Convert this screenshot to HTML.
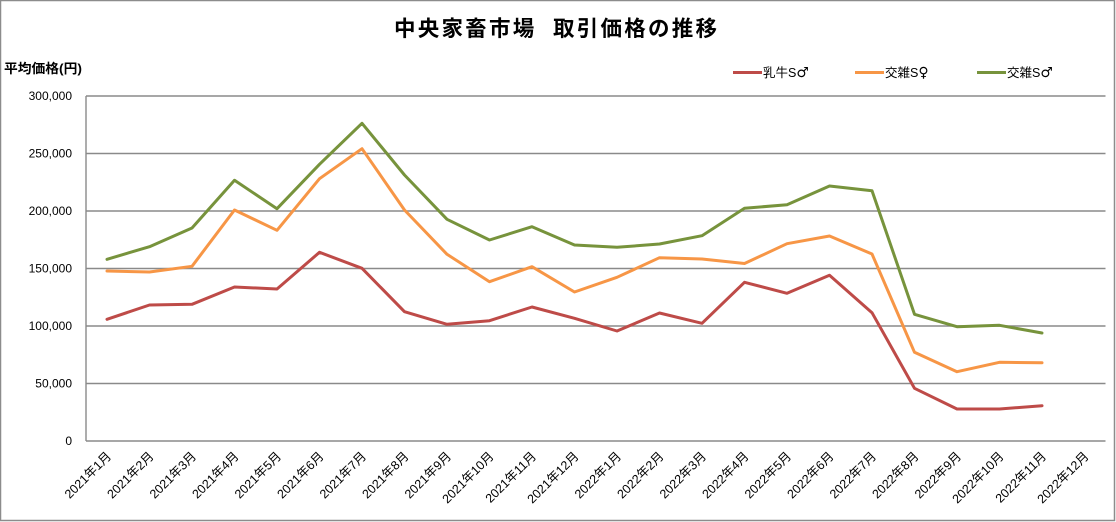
<!DOCTYPE html>
<html><head><meta charset="utf-8"><style>
html,body{margin:0;padding:0;background:#fff;}
svg{display:block;}
text{font-family:"Liberation Sans","Noto Sans CJK JP",sans-serif;fill:#000;}
.sym{font-family:"DejaVu Sans",sans-serif;}
</style></head><body>
<svg width="1116" height="522" viewBox="0 0 1116 522" xmlns="http://www.w3.org/2000/svg">
<rect x="0.5" y="0.5" width="1114" height="520" fill="#fff" stroke="#8c8c8c" stroke-width="1.5"/>
<text x="555.5" y="36" text-anchor="middle" font-size="21.5" font-weight="bold" textLength="323" lengthAdjust="spacing">中央家畜市場&#160;&#160;取引価格の推移</text>
<text x="4" y="73" font-size="13" font-weight="bold" textLength="78" lengthAdjust="spacingAndGlyphs">平均価格(円)</text>
<g stroke="#8a8a8a" stroke-width="1.4" fill="none">
<line x1="86" y1="96" x2="1105.5" y2="96"/>
<line x1="86" y1="153.5" x2="1105.5" y2="153.5"/>
<line x1="86" y1="211" x2="1105.5" y2="211"/>
<line x1="86" y1="268.5" x2="1105.5" y2="268.5"/>
<line x1="86" y1="326" x2="1105.5" y2="326"/>
<line x1="86" y1="383.5" x2="1105.5" y2="383.5"/>
<line x1="86" y1="441" x2="1105.5" y2="441"/>
<line x1="86" y1="96" x2="86" y2="441"/>
</g>
<g font-size="12" text-anchor="end">
<text x="72" y="100">300,000</text>
<text x="72" y="157.5">250,000</text>
<text x="72" y="215">200,000</text>
<text x="72" y="272.5">150,000</text>
<text x="72" y="330">100,000</text>
<text x="72" y="387.5">50,000</text>
<text x="72" y="445">0</text>
</g>
<g font-size="12.5" text-anchor="end">
<text transform="translate(112,457) rotate(-45)">2021年1月</text>
<text transform="translate(154.5,457) rotate(-45)">2021年2月</text>
<text transform="translate(197,457) rotate(-45)">2021年3月</text>
<text transform="translate(239.5,457) rotate(-45)">2021年4月</text>
<text transform="translate(282,457) rotate(-45)">2021年5月</text>
<text transform="translate(324.5,457) rotate(-45)">2021年6月</text>
<text transform="translate(367,457) rotate(-45)">2021年7月</text>
<text transform="translate(409.5,457) rotate(-45)">2021年8月</text>
<text transform="translate(452,457) rotate(-45)">2021年9月</text>
<text transform="translate(494.5,457) rotate(-45)">2021年10月</text>
<text transform="translate(537,457) rotate(-45)">2021年11月</text>
<text transform="translate(579.5,457) rotate(-45)">2021年12月</text>
<text transform="translate(622,457) rotate(-45)">2022年1月</text>
<text transform="translate(664.5,457) rotate(-45)">2022年2月</text>
<text transform="translate(707,457) rotate(-45)">2022年3月</text>
<text transform="translate(749.5,457) rotate(-45)">2022年4月</text>
<text transform="translate(792,457) rotate(-45)">2022年5月</text>
<text transform="translate(834.5,457) rotate(-45)">2022年6月</text>
<text transform="translate(877,457) rotate(-45)">2022年7月</text>
<text transform="translate(919.5,457) rotate(-45)">2022年8月</text>
<text transform="translate(962,457) rotate(-45)">2022年9月</text>
<text transform="translate(1004.5,457) rotate(-45)">2022年10月</text>
<text transform="translate(1047,457) rotate(-45)">2022年11月</text>
<text transform="translate(1089.5,457) rotate(-45)">2022年12月</text>
</g>
<g fill="none" stroke-width="3" stroke-linejoin="round" stroke-linecap="round">
<polyline stroke="#77933C" points="107,259.3 149.5,246.7 192,228 234.5,180.3 277,208.7 319.5,164.3 362,123.3 404.5,175 447,219.3 489.5,240 532,226.7 574.5,245 617,247.3 659.5,244 702,235.7 744.5,208.3 787,204.7 829.5,186 872,190.7 914.5,314.3 957,326.7 999.5,325.3 1042,333"/>
<polyline stroke="#F79646" points="107,271 149.5,272 192,266.3 234.5,210 277,230.3 319.5,178.7 362,148.7 404.5,210 447,254.3 489.5,281.7 532,266.7 574.5,292 617,277.3 659.5,257.7 702,259 744.5,263.5 787,243.7 829.5,236 872,254 914.5,352.3 957,371.7 999.5,362.3 1042,362.7"/>
<polyline stroke="#BE4B48" points="107,319.3 149.5,305 192,304.3 234.5,287 277,289 319.5,252.3 362,268.3 404.5,311.7 447,324.3 489.5,320.7 532,307 574.5,318.3 617,331 659.5,313 702,323.3 744.5,282.3 787,293.3 829.5,275.3 872,312.7 914.5,388.3 957,409 999.5,409 1042,405.7"/>
</g>
<g stroke-width="3">
<line x1="733" y1="72.5" x2="762" y2="72.5" stroke="#BE4B48"/>
<line x1="855" y1="72.5" x2="884" y2="72.5" stroke="#F79646"/>
<line x1="977" y1="72.5" x2="1006" y2="72.5" stroke="#77933C"/>
</g>
<g font-size="12.5">
<text x="763" y="77">乳牛S<tspan class="sym" font-size="14">♂</tspan></text>
<text x="885" y="77">交雑S<tspan class="sym" font-size="14">♀</tspan></text>
<text x="1007" y="77">交雑S<tspan class="sym" font-size="14">♂</tspan></text>
</g>
</svg>
</body></html>
